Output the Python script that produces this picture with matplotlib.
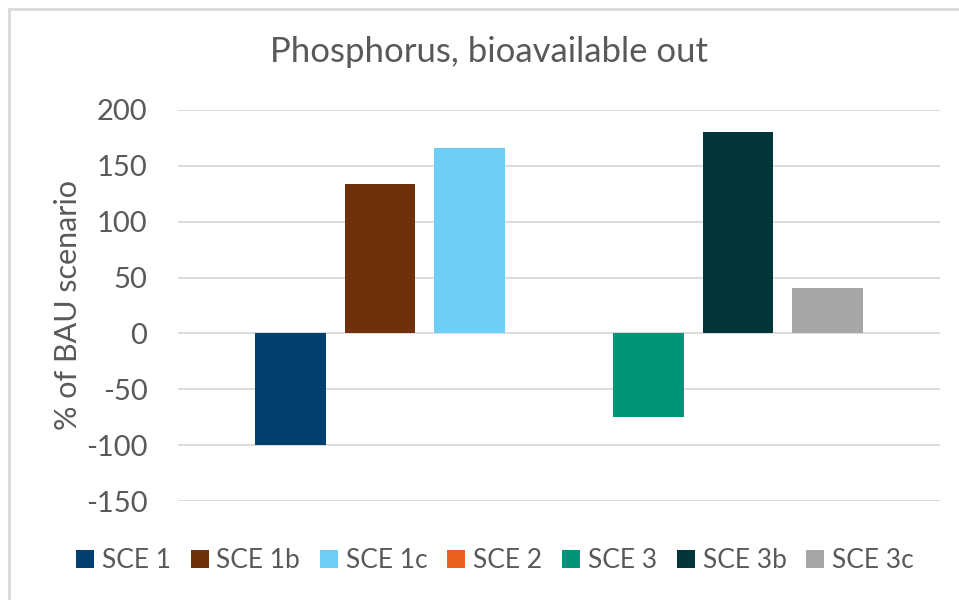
import matplotlib
matplotlib.use("Agg")
import matplotlib.pyplot as plt
from matplotlib.patches import Rectangle

# values (% of BAU scenario)
scenarios = ["SCE 1", "SCE 1b", "SCE 1c", "SCE 2", "SCE 3", "SCE 3b", "SCE 3c"]
values = [-100, 134, 166, 0, -75, 180, 41]
colors = ["#003F6E", "#70300C", "#6DCFF6", "#E8601C", "#009479", "#02353A", "#A6A6A6"]
yticks = [-150, -100, -50, 0, 50, 100, 150, 200]

text_col = "#595959"
grid_col = "#D9D9D9"
plt.rcParams['font.family'] = ['Lato', 'DejaVu Sans']

W, H = 959, 600
fig = plt.figure(figsize=(W / 100, H / 100), dpi=100)

# plot area in pixels: x 178..940, y 110..501
ax = fig.add_axes([178 / W, 1 - 501 / H, (940 - 178) / W, (501 - 110) / H])

for i, (name, v, c) in enumerate(zip(scenarios, values, colors)):
    ax.bar(i, v, width=0.79, color=c, label=name, zorder=2)

ax.set_xlim(-1.257, 7.257)
ax.set_ylim(-150, 200)
ax.set_yticks(yticks)
ax.set_yticklabels([str(t) for t in yticks])
ax.set_xticks([])
ax.yaxis.grid(True, color=grid_col, linewidth=1.3, zorder=0)
ax.set_axisbelow(True)
for s in ax.spines.values():
    s.set_visible(False)
ax.tick_params(axis='y', length=0, pad=22, labelsize=21, labelcolor=text_col)
ax.set_ylabel("% of BAU scenario", fontsize=22, color=text_col, labelpad=3)

fig.text(489 / W, 1 - 52 / H, "Phosphorus, bioavailable out", ha='center', va='center',
         fontsize=25, color=text_col)

handles, labels = ax.get_legend_handles_labels()
leg = fig.legend(handles, labels, loc='center', bbox_to_anchor=(495 / W, 1 - 561 / H),
                 ncol=7, frameon=False, fontsize=19, labelcolor=text_col,
                 handlelength=0.68, handleheight=0.68, handletextpad=0.3,
                 columnspacing=0.75, borderaxespad=0)

# light grey chart border
fig.patches.append(Rectangle((9 / W, -0.1), 1.2, 1 - 9 / H + 0.1, transform=fig.transFigure,
                             fill=False, edgecolor=grid_col, linewidth=2))

fig.savefig("out.png", dpi=100)
